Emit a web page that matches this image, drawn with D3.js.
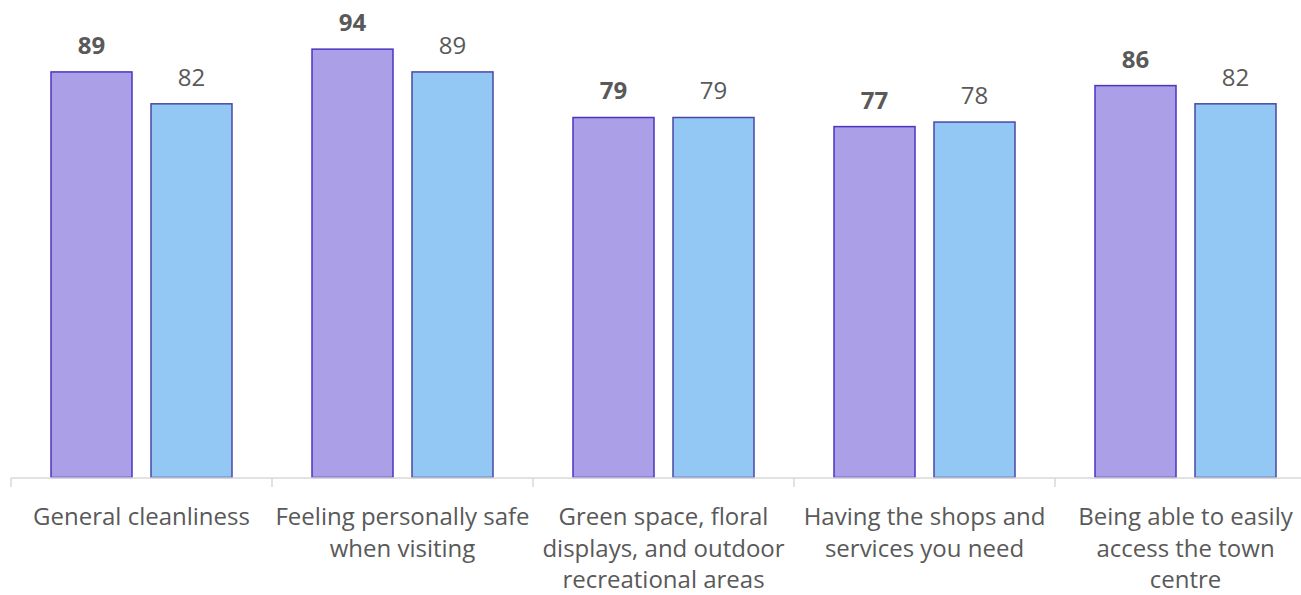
<!DOCTYPE html>
<html>
<head>
<meta charset="utf-8">
<script src="https://cdn.jsdelivr.net/npm/d3@7/dist/d3.min.js"></script>
<style>
  html, body { margin: 0; padding: 0; background: #ffffff; }
  svg { display: block; }
  text { font-family: "Open Sans", "DejaVu Sans", sans-serif; fill: #595959; }
</style>
</head>
<body>
<svg id="chart" width="1301" height="595"></svg>
<script>
// Category labels (line breaks mark where each label wraps)
const categories = [
  "General cleanliness",
  "Feeling personally safe\nwhen visiting",
  "Green space, floral\ndisplays, and outdoor\nrecreational areas",
  "Having the shops and\nservices you need",
  "Being able to easily\naccess the town\ncentre"
];
const seriesNames = ["Current", "Comparison"];
const currentValues = [89, 94, 79, 77, 86];
const comparisonValues = [82, 89, 79, 78, 82];

const fills = ["#ab9fe8", "#93c8f5"];
const strokes = ["#4b35c2", "#4a47a6"];

const svg = d3.select("#chart");
const baseY = 477.5;

const x = d3.scaleBand()
  .domain(d3.range(categories.length))
  .range([11, 11 + 261 * categories.length])
  .paddingInner(0)
  .paddingOuter(0);

const xInner = d3.scaleBand()
  .domain(d3.range(seriesNames.length))
  .range([0, x.bandwidth()])
  .paddingInner(0.19)
  .paddingOuter(0.4);

const y = d3.scaleLinear().domain([0, 100]).range([baseY, 21.8]);

const rows = categories.map((c, i) => ({
  cat: c, i,
  vals: [currentValues[i], comparisonValues[i]]
}));

// Bars
const groups = svg.append("g").selectAll("g")
  .data(rows)
  .join("g")
  .attr("transform", d => `translate(${x(d.i)},0)`);

groups.selectAll("rect")
  .data(d => d.vals.map((v, s) => ({ v, s })))
  .join("rect")
  .attr("x", d => xInner(d.s))
  .attr("y", d => y(d.v))
  .attr("width", xInner.bandwidth())
  .attr("height", d => baseY - y(d.v))
  .attr("fill", d => fills[d.s])
  .attr("stroke", d => strokes[d.s])
  .attr("stroke-width", 1.5);

// Value labels
groups.selectAll("text.value")
  .data(d => d.vals.map((v, s) => ({ v, s })))
  .join("text")
  .attr("class", "value")
  .attr("x", d => xInner(d.s) + xInner.bandwidth() / 2)
  .attr("y", d => y(d.v) - 18)
  .attr("text-anchor", "middle")
  .attr("font-size", 24)
  .attr("font-weight", d => d.s === 0 ? 700 : 400)
  .text(d => d.v);

// Category axis
const axis = d3.axisBottom(x)
  .tickSize(0)
  .tickFormat("");
const axisG = svg.append("g")
  .attr("transform", `translate(0,${baseY})`)
  .call(axis);
axisG.select(".domain").attr("stroke", "#d9d9d9").attr("stroke-width", 1.5);

// Boundary tick marks between categories
const bounds = d3.range(categories.length + 1).map(i => i === categories.length ? x.range()[1] : x(i));
axisG.selectAll("line.sep")
  .data(bounds)
  .join("line")
  .attr("class", "sep")
  .attr("x1", d => d).attr("x2", d => d)
  .attr("y1", 0).attr("y2", 9.5)
  .attr("stroke", "#d9d9d9")
  .attr("stroke-width", 1.5);

// Category labels
svg.append("g").selectAll("text")
  .data(rows)
  .join("text")
  .attr("text-anchor", "middle")
  .attr("font-size", 24)
  .attr("transform", d => `translate(${x(d.i) + x.bandwidth() / 2},525)`)
  .each(function(d) {
    const lines = d.cat.split("\n");
    d3.select(this).selectAll("tspan")
      .data(lines)
      .join("tspan")
      .attr("x", 0)
      .attr("y", (l, k) => k * 31.5)
      .text(l => l);
  });
</script>
</body>
</html>
